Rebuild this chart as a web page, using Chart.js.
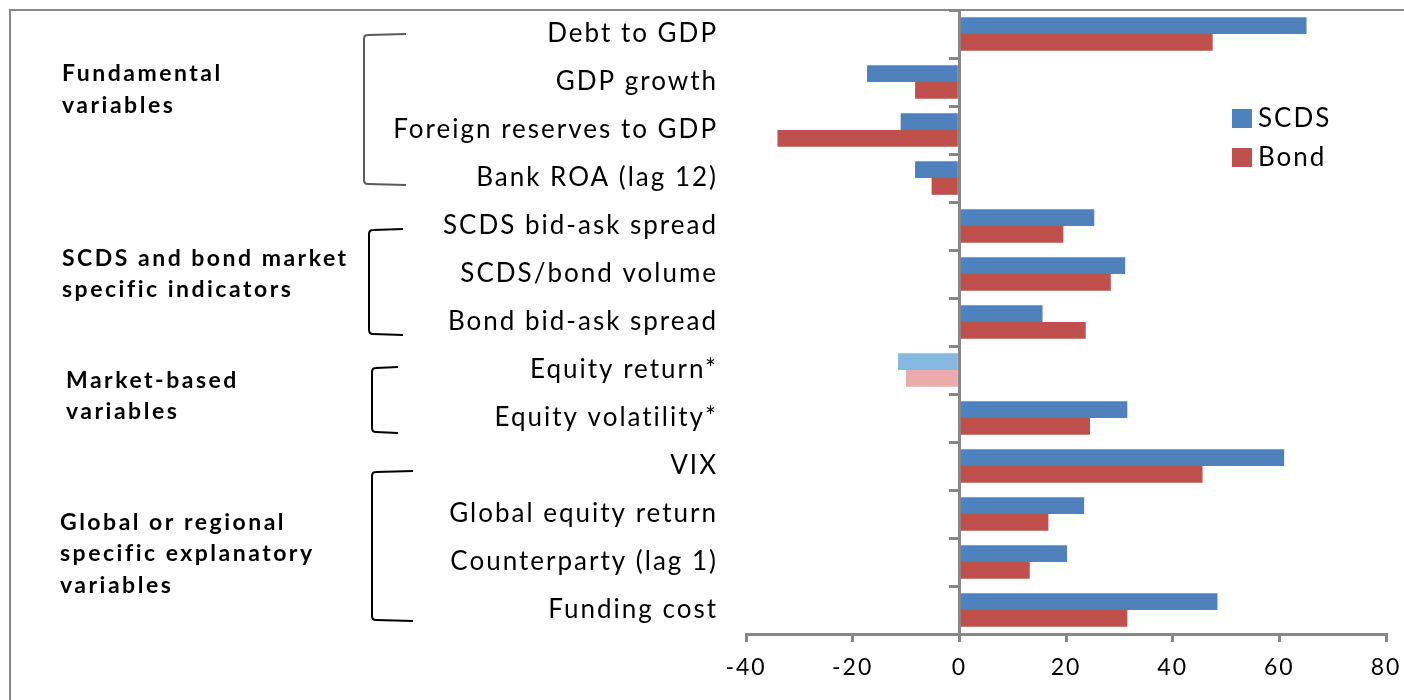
<!DOCTYPE html>
<html>
<head>
<meta charset="utf-8">
<script src="https://cdn.jsdelivr.net/npm/chart.js@4"></script>
<style>
  html, body { margin: 0; padding: 0; background: #fff; }
  #wrap { width: 1404px; height: 700px; }
</style>
</head>
<body>
<div id="wrap"><canvas id="chart" width="1404" height="700"></canvas></div>
<script>
"use strict"

// Data
const categories = [
    'Debt to GDP', 'GDP growth', 'Foreign reserves to GDP', 'Bank ROA (lag 12)',
    'SCDS bid-ask spread', 'SCDS/bond volume', 'Bond bid-ask spread',
    'Equity return*', 'Equity volatility*',
    'VIX', 'Global equity return', 'Counterparty (lag 1)', 'Funding cost'
];
const scdsValues = [65.1, -17.3, -11.0, -8.3, 25.3, 31.1, 15.6, -11.5, 31.5, 60.9, 23.4, 20.2, 48.4];
const bondValues = [47.5, -8.3, -34.1, -5.2, 19.5, 28.4, 23.7, -10.0, 24.5, 45.6, 16.7, 13.2, 31.5];
const seriesNames = ['SCDS', 'Bond'];
const xTicks = [-40, -20, 0, 20, 40, 60, 80];

// Groups of variables (first and last category index)
const groupNames = [
    ['Fundamental', 'variables'],
    ['SCDS and bond market', 'specific indicators'],
    ['Market-based', 'variables'],
    ['Global or regional', 'specific explanatory', 'variables']
];
const groupFirst = [0, 4, 7, 9];
const groupLast = [3, 6, 8, 12];
// categories drawn faded
const fadedIndex = [7];

const blue = '#4F81BD';
const red = '#C0504D';
const lightBlue = '#86B9E1';
const lightRed = '#EBABAB';
const axisGrey = '#878787';
const fontName = 'Lato, "Open Sans", sans-serif';

function colours(base, faded) {
    return categories.map((c, i) => fadedIndex.includes(i) ? faded : base);
}

// brackets, group titles, legend and frame
const groupStyle = {
    labelX: [62, 62, 66, 60],
    labelDy: [-20, -8, -4, 8],
    bracketX: [364, 369, 372, 372],
    armEnd: [406, 403, 398, 413],
    topShift: [0, 3, -3, 5],
    bottomShift: [-3, 3, 5, 1],
    bracketColor: ['#5a5a5a', '#000', '#000', '#000']
};

const extras = {
    id: 'extras',
    beforeDraw(chart) {
        const ctx = chart.ctx;
        ctx.save();
        ctx.strokeStyle = axisGrey;
        ctx.lineWidth = 2;
        ctx.strokeRect(10, 10, 1600, 900);
        ctx.restore();
        // the original text is set rather loose
        ctx.letterSpacing = '2px';
    },
    afterDraw(chart) {
        const ctx = chart.ctx;
        const y = chart.scales.y;
        ctx.save();

        groupNames.forEach((lines, g) => {
            const top = y.getPixelForValue(groupFirst[g]) + 1 + groupStyle.topShift[g];
            const bottom = y.getPixelForValue(groupLast[g]) + 9 + groupStyle.bottomShift[g];
            const bx = groupStyle.bracketX[g];
            const ax = groupStyle.armEnd[g];
            ctx.strokeStyle = groupStyle.bracketColor[g];
            ctx.lineWidth = 2;
            ctx.beginPath();
            ctx.moveTo(ax, top - 1);
            ctx.lineTo(bx + 4, top);
            ctx.quadraticCurveTo(bx, top, bx, top + 4);
            ctx.lineTo(bx, bottom - 4);
            ctx.quadraticCurveTo(bx, bottom, bx + 4, bottom);
            ctx.lineTo(ax, bottom + 1);
            ctx.stroke();

            const mid = (top + bottom) / 2 + groupStyle.labelDy[g];
            const lh = 31.5;
            ctx.fillStyle = '#000';
            ctx.font = 'bold 23px ' + fontName;
            ctx.letterSpacing = '2.5px';
            ctx.textAlign = 'left';
            ctx.textBaseline = 'middle';
            lines.forEach((t, k) => {
                ctx.fillText(t, groupStyle.labelX[g], mid + (k - (lines.length - 1) / 2) * lh);
            });
        });

        // legend
        const legendColours = [blue, red];
        ctx.font = '26px ' + fontName;
        ctx.letterSpacing = '2px';
        ctx.textBaseline = 'middle';
        chart.data.datasets.forEach((ds, i) => {
            const ly = 118 + i * 39;
            ctx.fillStyle = legendColours[i];
            ctx.fillRect(1232, ly - 9, 20, 19);
            ctx.fillStyle = '#000';
            ctx.fillText(ds.label, 1258, ly + 1);
        });
        ctx.restore();
    }
};

new Chart(document.getElementById('chart'), {
    type: 'bar',
    data: {
        labels: categories,
        datasets: [{
            label: seriesNames[0],
            data: scdsValues,
            backgroundColor: colours(blue, lightBlue),
            categoryPercentage: 0.7,
            barPercentage: 1
        }, {
            label: seriesNames[1],
            data: bondValues,
            backgroundColor: colours(red, lightRed),
            categoryPercentage: 0.7,
            barPercentage: 1
        }]
    },
    options: {
        indexAxis: 'y',
        responsive: false,
        animation: false,
        layout: { padding: { left: 0, top: 10, right: 18, bottom: 0 } },
        plugins: {
            legend: { display: false },
            tooltip: { enabled: false }
        },
        scales: {
            x: {
                min: xTicks[0],
                max: xTicks[xTicks.length - 1],
                afterBuildTicks: (scale) => { scale.ticks = xTicks.map(v => ({ value: v })); },
                afterFit: (scale) => {
                    scale.height = 66;
                    scale.paddingLeft = 0;
                    scale.paddingRight = 0;
                },
                border: { display: true, color: axisGrey, width: 3 },
                grid: { drawOnChartArea: false, color: axisGrey, lineWidth: 3, tickLength: 8 },
                ticks: { color: '#000', padding: 12, font: { family: fontName, size: 23 } }
            },
            y: {
                position: 'left',
                afterFit: (scale) => {
                    scale.width = 746;
                    scale.paddingTop = 0;
                    scale.paddingBottom = 0;
                },
                border: { display: false },
                grid: { display: false },
                ticks: { color: '#000', padding: 20, font: { family: fontName, size: 26 } }
            },
            y2: {
                type: 'category',
                position: { x: 0 },
                offset: true,
                border: { display: true, color: axisGrey, width: 3 },
                grid: { offset: true, drawOnChartArea: false, color: axisGrey, lineWidth: 3, tickLength: 9 },
                ticks: { display: false }
            }
        }
    },
    plugins: [extras]
});
</script>
</body>
</html>
